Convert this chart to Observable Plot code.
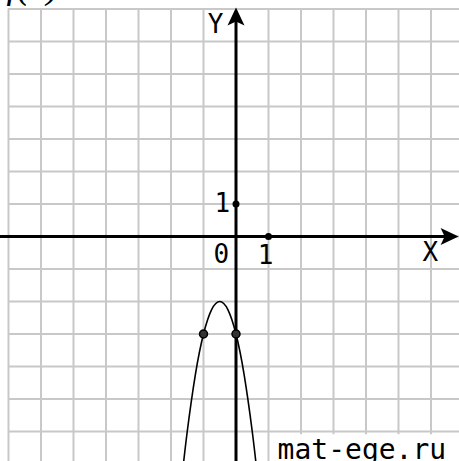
<!DOCTYPE html>
<html><head><meta charset="utf-8">
<script src="https://cdn.jsdelivr.net/npm/d3@7"></script>
<script src="https://cdn.jsdelivr.net/npm/@observablehq/plot@0.6"></script>
<style>body{margin:0;background:#fff}</style>
</head><body><div id="chart"></div>
<script>
// Grid lines (integer positions)
const gridX = [-7, -6, -5, -4, -3, -2, -1, 0, 1, 2, 3, 4, 5, 6];
const gridY = [-6, -5, -4, -3, -2, -1, 0, 1, 2, 3, 4, 5, 6, 7];
// Parabola points
const curveX = [-1.65, -1.5, -1.25, -1, -0.75, -0.5, -0.25, 0, 0.25, 0.5, 0.65];
const curveY = [-7.29, -6, -4.25, -3, -2.25, -2, -2.25, -3, -4.25, -6, -7.29];
// Marked points
const pointX = [-1, 0];
const pointY = [-3, -3];
// Unit ticks
const tickX = [0, 1];
const tickY = [1, 0];
// Labels
const labelText = ["Y", "X", "0", "1", "1"];
const labelX = [-0.63, 5.98, -0.45, 0.91, -0.42];
const labelY = [6.52, -0.49, -0.55, -0.58, 1.02];
// Cropped title and watermark
const titleText = "f(x)";
const watermarkText = "mat-ege.ru";
const watermarkX = [1.28];
const watermarkY = [-6.86];
const watermarkBox = [{x1: 1.06, x2: 7.2, y1: -7.2, y2: -6.1}];

const xDomain = [-7.246, 6.877];
const yDomain = [-6.923, 7.262];

const curve = curveX.map((x, i) => ({x, y: curveY[i]}));
const points = pointX.map((x, i) => ({x, y: pointY[i]}));
const ticks = tickX.map((x, i) => ({x, y: tickY[i]}));
const labels = labelText.map((t, i) => ({t, x: labelX[i], y: labelY[i]}));
const wm = watermarkX.map((x, i) => ({x, y: watermarkY[i], t: watermarkText}));

const arrowSymbol = {
  draw(ctx, size) {
    const s = Math.sqrt(size / Math.PI);
    ctx.moveTo(0, 0);
    ctx.lineTo(0.85 * s, 1.8 * s);
    ctx.lineTo(0, 1.4 * s);
    ctx.lineTo(-0.85 * s, 1.8 * s);
    ctx.closePath();
  }
};

const mono = "DejaVu Sans Mono";

const chart = Plot.plot({
  width: 459,
  height: 461,
  margin: 0,
  x: {domain: xDomain, axis: null},
  y: {domain: yDomain, axis: null},
  style: {background: "white"},
  marks: [
    Plot.ruleY(gridY, {x1: -7, x2: xDomain[1], stroke: "#c8c8c8", strokeWidth: 2}),
    Plot.ruleX(gridX, {y1: yDomain[0], y2: 7, stroke: "#c8c8c8", strokeWidth: 2}),
    Plot.rect(watermarkBox, {x1: "x1", x2: "x2", y1: "y1", y2: "y2", fill: "white"}),
    Plot.ruleY([0], {x1: xDomain[0], x2: 6.7, stroke: "black", strokeWidth: 3}),
    Plot.ruleX([0], {y1: yDomain[0], y2: 6.9, stroke: "black", strokeWidth: 3}),
    Plot.dot([{x: 6.85, y: 0}], {x: "x", y: "y", symbol: arrowSymbol, r: 10, rotate: 90, fill: "black"}),
    Plot.dot([{x: 0, y: 7.05}], {x: "x", y: "y", symbol: arrowSymbol, r: 10, rotate: 0, fill: "black"}),
    Plot.line(curve, {x: "x", y: "y", curve: "natural", stroke: "black", strokeWidth: 1.6, clip: true}),
    Plot.dot(points, {x: "x", y: "y", r: 4, fill: "#333", stroke: "black", strokeWidth: 1.5}),
    Plot.dot(ticks, {x: "x", y: "y", r: 3.5, fill: "black"}),
    Plot.text(labels, {x: "x", y: "y", text: "t", fontSize: 26, fontFamily: mono, fill: "black"}),
    Plot.text(wm, {x: "x", y: "y", text: "t", fontSize: 28, fontFamily: mono, textAnchor: "start", lineAnchor: "bottom", fill: "black"}),
    Plot.text([titleText], {frameAnchor: "top-left", text: d => d, dx: 6, dy: -3, lineAnchor: "bottom", textAnchor: "start", fontSize: 38, fontFamily: "Liberation Serif", fontStyle: "italic", fill: "black"})
  ]
});
document.getElementById("chart").append(chart);
</script></body></html>
